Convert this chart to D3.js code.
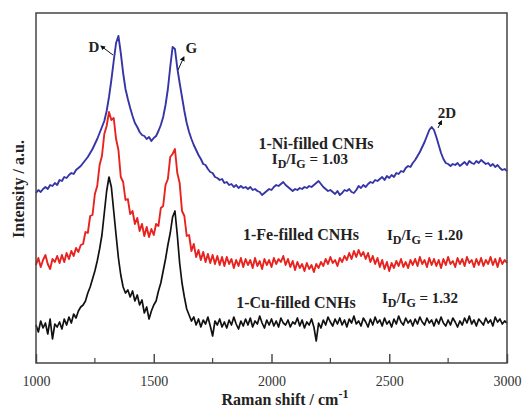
<!DOCTYPE html>
<html>
<head>
<meta charset="utf-8">
<script src="https://cdn.jsdelivr.net/npm/d3@7"></script>
<style>
  body { margin: 0; background: #fff; }
  svg text { font-family: "Liberation Serif", "Times New Roman", "DejaVu Serif", serif !important; }
</style>
</head>
<body>
<div id="canvas"></div>
<script>
const width = 525;
const height = 409;

// Raman shift, one reading every 10 cm-1
const shift = d3.range(1000, 3001, 10);

// intensities (a.u., stacked offsets kept as drawn)
const ni = [
  170,173,171,174,176,174,178,177,180,178,
  183,182,186,185,188,190,189,193,195,197,
  200,203,206,210,214,219,224,230,236,242,
  252,266,283,302,320,327,310,290,274,264,
  255,247,240,236,231,228,227,224,226,222,
  225,227,232,238,246,258,274,296,316,314,
  295,280,266,252,240,231,224,218,213,208,
  204,199,198,194,191,190,186,185,183,184,
  180,181,178,179,176,178,175,177,175,176,
  174,176,173,174,172,171,168,170,172,174,
  173,176,178,177,179,181,178,176,174,172,
  174,173,175,174,176,175,177,176,178,180,
  182,179,176,174,172,173,171,169,172,168,
  170,173,172,174,171,170,173,177,175,178,
  176,179,181,180,183,182,184,186,183,187,
  185,188,186,190,189,192,191,195,197,196,
  200,203,207,211,216,221,227,233,236,233,
  226,218,210,204,200,199,197,199,198,200,
  197,199,201,198,202,200,199,202,200,203,
  201,199,200,197,199,196,198,195,193,194,
  192
];
const fe = [
  98,105,96,103,108,99,94,104,101,107,
  100,108,101,110,104,112,107,115,111,118,
  119,131,130,147,148,169,177,198,207,229,
  237,251,243,245,224,213,186,181,163,164,
  149,152,139,145,132,139,127,136,126,134,
  128,139,137,155,157,178,184,206,209,214,
  190,180,152,147,127,128,112,119,106,113,
  103,111,101,109,100,108,99,107,98,106,
  97,106,99,104,95,103,97,105,96,104,
  98,103,95,105,97,102,94,104,98,103,
  96,105,99,104,101,107,98,104,96,102,
  93,101,95,99,92,100,94,98,91,99,
  95,101,97,104,99,106,100,103,97,105,
  101,107,103,110,104,112,106,113,107,111,
  104,110,101,107,99,105,96,103,94,101,
  92,100,95,102,97,104,96,101,95,103,
  98,104,97,106,99,103,96,105,98,104,
  97,103,95,104,98,106,99,102,96,105,
  99,104,97,106,100,103,96,104,98,105,
  97,103,99,106,98,104,96,105,99,103,
  100
];
const cu = [
  38,31,42,35,40,29,44,24,39,36,
  41,34,44,38,46,40,49,45,52,56,
  58,62,70,76,84,92,102,114,128,150,
  172,186,176,152,128,105,88,76,70,73,
  66,72,62,68,58,63,50,56,44,52,
  58,62,72,80,92,104,118,130,146,152,
  128,100,80,66,54,48,42,46,38,44,
  36,43,39,46,37,27,42,38,44,36,
  41,35,43,38,46,39,34,42,37,44,
  38,45,36,42,39,47,40,35,43,38,
  44,37,42,36,45,40,38,43,36,41,
  39,45,37,43,35,41,38,44,36,22,
  40,35,43,38,46,41,37,44,39,45,
  38,43,36,44,40,47,39,42,37,45,
  41,36,44,38,46,40,43,37,45,39,
  42,36,44,39,47,41,38,45,40,43,
  37,44,39,46,41,38,45,40,43,37,
  44,39,46,40,37,43,38,45,41,36,
  42,38,45,40,47,39,43,37,44,41,
  38,45,40,43,37,46,41,44,39,42,
  40
];

const series = [
  { name: "Ni", values: ni, color: "#3535a8", w: 1.9 },
  { name: "Fe", values: fe, color: "#e8231f", w: 1.9 },
  { name: "Cu", values: cu, color: "#111111", w: 1.7 }
];

const xTicks = [1000, 1500, 2000, 2500, 3000];
const xMinor = [1250, 1750, 2250, 2750];

// annotation anchors, in data units
const sampleLabels = [
  { text: "1-Ni-filled CNHs", x: 2189, y: 214 },
  { text: "1-Fe-filled CNHs", x: 2125, y: 123 },
  { text: "1-Cu-filled CNHs", x: 2104, y: 55 }
];
const ratioLabels = [
  { value: "1.03", x: 2163, y: 199, anchor: "middle" },
  { value: "1.20", x: 2490, y: 123, anchor: "start" },
  { value: "1.32", x: 2469, y: 60, anchor: "start" }
];
const peakLabels = [
  { text: "D",  x: 1246, y: 311, from: [1327, 308], to: [1276, 317] },
  { text: "G",  x: 1660, y: 310, from: [1603, 293], to: [1628, 306] },
  { text: "2D", x: 2745, y: 245, from: [2707, 235], to: [2722, 242] }
];

const serif = "Liberation Serif, Times New Roman, serif";
const margin = { left: 36, right: 18, top: 13, bottom: 46 };

const svg = d3.select("#canvas")
    .append("svg")
    .attr("width", width)
    .attr("height", height);

const x = d3.scaleLinear()
    .domain([1000, 3000])
    .range([margin.left, width - margin.right]);
const y = d3.scaleLinear()
    .domain([0, 350])
    .range([height - margin.bottom, margin.top]);

svg.append("defs").append("marker")
    .attr("id", "arrow")
    .attr("viewBox", "0 0 10 10")
    .attr("refX", 8).attr("refY", 5)
    .attr("markerWidth", 5).attr("markerHeight", 5)
    .attr("orient", "auto")
  .append("path")
    .attr("d", "M0,0 L10,5 L0,10 z")
    .attr("fill", "#111");

// spectra
const line = d3.line()
    .x((d, i) => x(shift[i]))
    .y(d => y(d));

series.forEach(function(s) {
    svg.append("path")
        .datum(s.values)
        .attr("fill", "none")
        .attr("stroke", s.color)
        .attr("stroke-width", s.w)
        .attr("stroke-linejoin", "round")
        .attr("d", line);
});

// frame
svg.append("rect")
    .attr("x", x(1000)).attr("y", y(350))
    .attr("width", x(3000) - x(1000))
    .attr("height", y(0) - y(350))
    .attr("fill", "none")
    .attr("stroke", "#444")
    .attr("stroke-width", 1.5);

// bottom axis, ticks pointing inward
const xAxis = svg.append("g")
    .attr("transform", `translate(0, ${y(0)})`)
    .attr("font-family", serif)
    .call(d3.axisBottom(x).tickValues(xTicks).tickFormat(d3.format("d"))
        .tickSizeInner(-9).tickSizeOuter(0).tickPadding(13));
xAxis.select(".domain").remove();
xAxis.selectAll("line").attr("stroke", "#444").attr("stroke-width", 1.4);
xAxis.selectAll("text")
    .attr("font-size", 14)
    .attr("fill", "#333");

svg.append("g")
    .selectAll("line")
    .data(xMinor)
    .join("line")
    .attr("x1", d => x(d)).attr("x2", d => x(d))
    .attr("y1", y(0)).attr("y2", y(0) - 5)
    .attr("stroke", "#444")
    .attr("stroke-width", 1.2);

// axis titles
const xt = svg.append("text")
    .attr("x", 285).attr("y", 405)
    .attr("text-anchor", "middle")
    .attr("font-family", serif)
    .attr("font-size", 16)
    .attr("font-weight", "bold")
    .attr("fill", "#222");
xt.append("tspan").text("Raman shift / cm");
xt.append("tspan").attr("dy", -7).attr("font-size", 12).text("-1");

svg.append("text")
    .attr("transform", "translate(24, 189) rotate(-90)")
    .attr("text-anchor", "middle")
    .attr("font-family", serif)
    .attr("font-size", 16)
    .attr("font-weight", "bold")
    .attr("fill", "#222")
    .text("Intensity / a.u.");

// sample names
svg.selectAll(".sample")
    .data(sampleLabels)
    .join("text")
    .attr("class", "sample")
    .attr("x", d => x(d.x)).attr("y", d => y(d.y))
    .attr("text-anchor", "middle")
    .attr("font-family", serif)
    .attr("font-size", 16)
    .attr("font-weight", "bold")
    .attr("fill", "#222")
    .text(d => d.text);

// ID/IG ratios
ratioLabels.forEach(function(d) {
    const t = svg.append("text")
        .attr("x", x(d.x)).attr("y", y(d.y))
        .attr("text-anchor", d.anchor)
        .attr("font-family", serif)
        .attr("font-size", 15)
        .attr("font-weight", "bold")
        .attr("fill", "#222");
    t.append("tspan").text("I");
    t.append("tspan").attr("dy", 4).attr("font-size", 12).text("D");
    t.append("tspan").attr("dy", -4).text("/I");
    t.append("tspan").attr("dy", 4).attr("font-size", 12).text("G");
    t.append("tspan").attr("dy", -4).text(" = " + d.value);
});

// peak markers
peakLabels.forEach(function(d) {
    svg.append("line")
        .attr("x1", x(d.from[0])).attr("y1", y(d.from[1]))
        .attr("x2", x(d.to[0])).attr("y2", y(d.to[1]))
        .attr("stroke", "#111")
        .attr("stroke-width", 1)
        .attr("marker-end", "url(#arrow)");
    svg.append("text")
        .attr("x", x(d.x)).attr("y", y(d.y))
        .attr("text-anchor", "middle")
        .attr("font-family", serif)
        .attr("font-size", 15)
        .attr("font-weight", "bold")
        .attr("fill", "#222")
        .text(d.text);
});
</script>
</body>
</html>
